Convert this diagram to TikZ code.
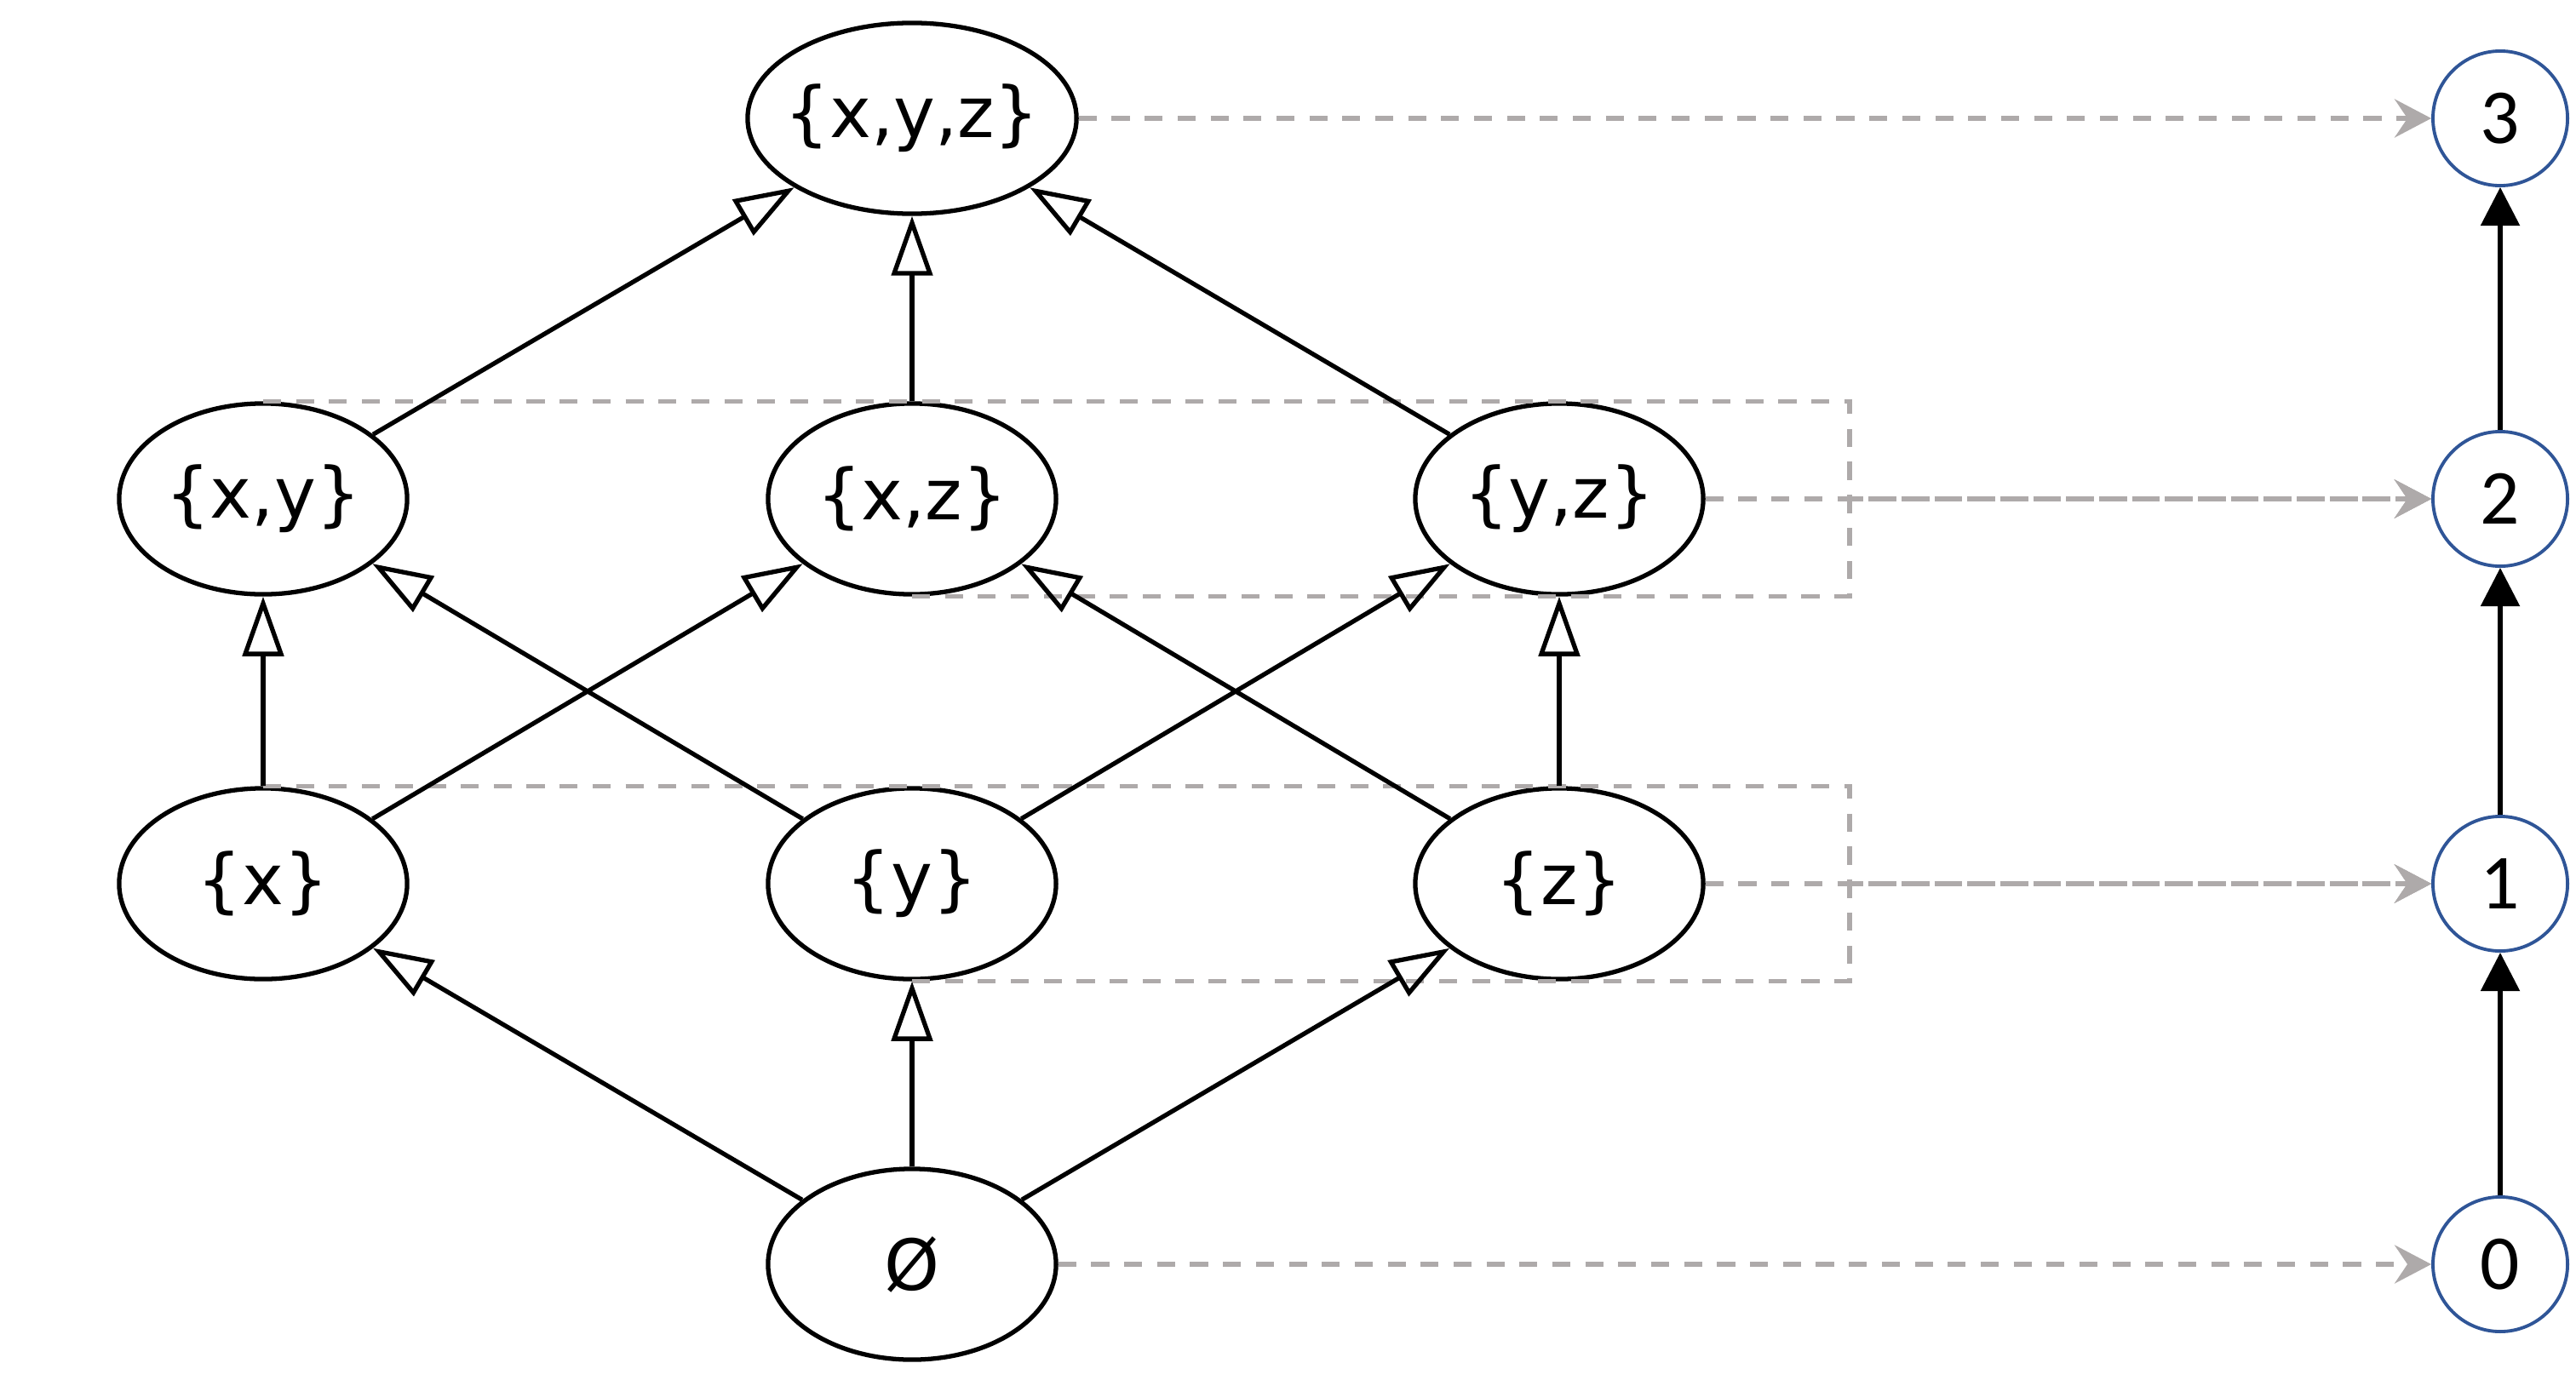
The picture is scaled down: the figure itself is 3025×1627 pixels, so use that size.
\documentclass[tikz,border=0pt]{standalone}
\usepackage{fontspec}
\setmainfont{DejaVu Sans}
\newfontfamily\numfont{Carlito}
\usetikzlibrary{arrows.meta,shapes.geometric}
\definecolor{dgray}{HTML}{AEAAAA}
\definecolor{cblue}{HTML}{2F5597}
\begin{document}
\begin{tikzpicture}[x=0.01cm,y=-0.01cm,
 setnode/.style={ellipse, draw=black, line width=1.5pt, fill=white, minimum width=3.38cm, minimum height=2.24cm, inner sep=-0.3cm, font=\fontsize{23.5}{28}\selectfont},
 topnode/.style={setnode, minimum width=3.86cm},
 numnode/.style={circle, draw=cblue, line width=1.1pt, fill=white, minimum size=1.58cm, inner sep=0pt, font=\numfont\fontsize{26}{30}\selectfont},
 order/.style={line width=1.5pt, -{Triangle[open, length=0.7cm, width=0.48cm]}},
 rank/.style={line width=1.5pt, -{Triangle[length=0.45cm, width=0.45cm]}},
 mapline/.style={draw=dgray, line width=1.5pt, dash pattern=on 6pt off 5pt},
 mapto/.style={mapline, -{Stealth[length=0.43cm, width=0.45cm, inset=0.15cm]}}
]
\useasboundingbox (0,0) rectangle (3025,1627);
% lattice nodes
\node[topnode] (xyz) at (1071,139) {\{x,y,z\}};
\node[setnode] (xy) at (309,586) {\{x,y\}};
\node[setnode] (xz) at (1071,586) {\{x,z\}};
\node[setnode] (yz) at (1831,586) {\{y,z\}};
\node[setnode] (x) at (309,1038) {\{x\}};
\node[setnode] (y) at (1071,1038) {\{y\}};
\node[setnode] (z) at (1831,1038) {\{z\}};
\node[setnode] (e) at (1071,1485) {Ø};
% rank nodes
\node[numnode] (n3) at (2936,139) {3};
\node[numnode] (n2) at (2936,586) {2};
\node[numnode] (n1) at (2936,1038) {1};
\node[numnode] (n0) at (2936,1485) {0};
% mapping (dashed)
\coordinate (r2) at (2172,586);
\coordinate (r1) at (2172,1038);
\draw[mapto] (xyz.east) -- (n3.west);
\draw[mapto] (e.east) -- (n0.west);
\draw[mapto] (yz.east) -- (n2.west);
\draw[mapto] (xy.north) -- (xy.north -| r2) -- (r2) -- (n2.west);
\draw[mapto] (xz.south) -- (xz.south -| r2) -- (r2) -- (n2.west);
\draw[mapto] (z.east) -- (n1.west);
\draw[mapto] (x.north) -- (x.north -| r1) -- (r1) -- (n1.west);
\draw[mapto] (y.south) -- (y.south -| r1) -- (r1) -- (n1.west);
% order edges
\draw[order] (e) -- (x);
\draw[order] (e) -- (y);
\draw[order] (e) -- (z);
\draw[order] (x) -- (xy);
\draw[order] (x) -- (xz);
\draw[order] (y) -- (xy);
\draw[order] (y) -- (yz);
\draw[order] (z) -- (xz);
\draw[order] (z) -- (yz);
\draw[order] (xy) -- (xyz);
\draw[order] (xz) -- (xyz);
\draw[order] (yz) -- (xyz);
% rank edges
\draw[rank] (n0) -- (n1);
\draw[rank] (n1) -- (n2);
\draw[rank] (n2) -- (n3);
\end{tikzpicture}
\end{document}
